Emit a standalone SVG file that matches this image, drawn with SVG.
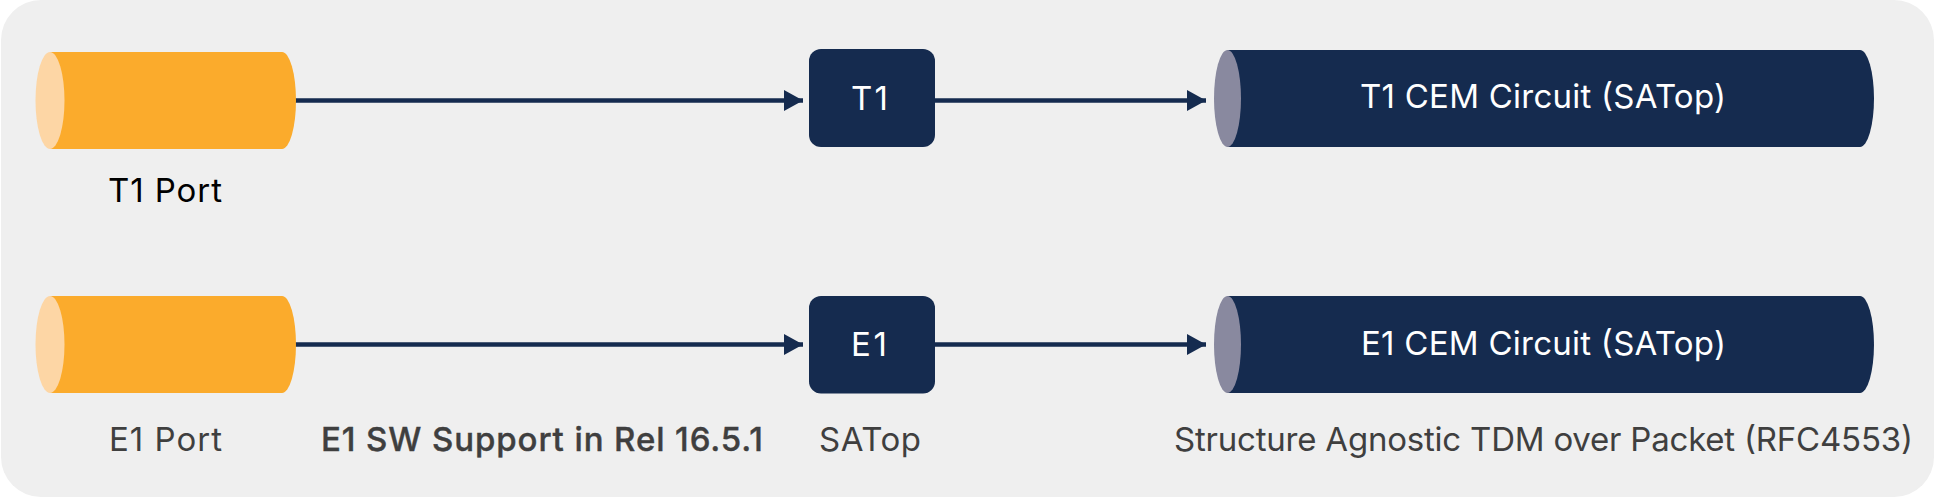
<svg xmlns="http://www.w3.org/2000/svg" width="1936" height="498" viewBox="0 0 1936 498">
<style>
.t{font-family:"Inter","Noto Sans",sans-serif;font-size:33px;text-anchor:start}
.w{fill:#fff}.d{fill:#3f3f3f}.k{fill:#000}
.or{fill:#fbab2c}.orc{fill:#fdd6a5}.nv{fill:#152b4f}.nvc{fill:#89899f}
.ln{stroke:#152b4f;stroke-width:4.5;fill:none;marker-end:url(#a)}
</style>
<defs><marker id="a" markerUnits="userSpaceOnUse" markerWidth="20" markerHeight="22" refX="19" refY="11" orient="auto"><path d="M0 .5L19 11L0 21.5Z" fill="#152b4f"/></marker></defs>
<rect x="1" y="0" width="1933" height="497" rx="40" fill="#efefef"/>
<g id="connectors">
<path class="ln" d="M295 100.5H803"/>
<path class="ln" d="M935 100.5H1206"/>
<path class="ln" d="M295 344.5H803"/>
<path class="ln" d="M935 344.5H1206"/>
</g>
<g id="t1-port"><path class="or" d="M50 52H282A14 48.5 0 0 1 282 149H50Z"/><ellipse class="orc" cx="50" cy="100.5" rx="14.5" ry="48.5"/><text class="t k" x="108" y="202" textLength="114">T1 Port</text></g>
<g id="t1-box"><rect class="nv" x="809" y="49" width="126" height="98" rx="12"/><text class="t w" x="851" y="110" textLength="37">T1</text></g>
<g id="t1-cem"><path class="nv" d="M1227 50H1860A14 48.5 0 0 1 1860 147H1227Z"/><ellipse class="nvc" cx="1227.5" cy="98.5" rx="13.5" ry="48.5"/><text class="t w" x="1360" y="107.5" textLength="366">T1 CEM Circuit (SATop)</text></g>
<g id="e1-port"><path class="or" d="M50 296H282A14 48.5 0 0 1 282 393H50Z"/><ellipse class="orc" cx="50" cy="344.5" rx="14.5" ry="48.5"/><text class="t d" x="109" y="451" textLength="113">E1 Port</text></g>
<g id="e1-box"><rect class="nv" x="809" y="296" width="126" height="97.5" rx="12"/><text class="t w" x="851" y="355.5" textLength="36">E1</text></g>
<g id="e1-cem"><path class="nv" d="M1227 296H1860A14 48.5 0 0 1 1860 393H1227Z"/><ellipse class="nvc" cx="1227.5" cy="344.5" rx="13.5" ry="48.5"/><text class="t w" x="1361" y="355" textLength="365">E1 CEM Circuit (SATop)</text></g>
<text class="t d" x="321" y="451" font-weight="500" textLength="442" stroke="#3f3f3f" stroke-width=".4">E1 SW Support in Rel 16.5.1</text>
<text class="t d" x="819" y="451" textLength="102">SATop</text>
<text class="t d" x="1174" y="451" textLength="739">Structure Agnostic TDM over Packet (RFC4553)</text>
</svg>
